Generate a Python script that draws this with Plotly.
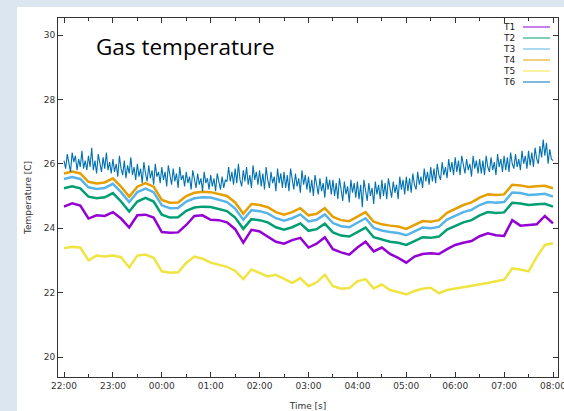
import pandas as pd
import plotly.graph_objects as go

# Sampling grids: T1..T5 logged every 10 minutes, T6 every 2 minutes
START = "2021-01-01 22:00"
t_slow = pd.date_range(START, periods=61, freq="10min")
t_fast = pd.date_range(START, periods=301, freq="2min")

T1 = [24.67, 24.77, 24.70, 24.30, 24.40, 24.38, 24.50, 24.30, 24.02, 24.40,
      24.42, 24.33, 23.88, 23.86, 23.87, 24.10, 24.38, 24.40, 24.26, 24.25,
      24.18, 23.97, 23.55, 23.95, 23.90, 23.75, 23.58, 23.52, 23.63, 23.70,
      23.40, 23.52, 23.72, 23.35, 23.25, 23.18, 23.40, 23.58, 23.28, 23.40,
      23.20, 23.08, 22.93, 23.12, 23.20, 23.22, 23.20, 23.35, 23.48, 23.55,
      23.60, 23.75, 23.84, 23.78, 23.76, 24.25, 24.08, 24.10, 24.12, 24.38,
      24.15]

T2 = [25.24, 25.30, 25.24, 24.98, 24.93, 24.96, 25.09, 24.83, 24.52, 24.83,
      24.94, 24.83, 24.42, 24.33, 24.34, 24.54, 24.64, 24.67, 24.66, 24.59,
      24.53, 24.33, 23.98, 24.28, 24.25, 24.18, 24.03, 23.95, 24.03, 24.15,
      23.92, 23.97, 24.14, 23.87, 23.77, 23.74, 23.87, 24.02, 23.72, 23.64,
      23.58, 23.55, 23.48, 23.60, 23.72, 23.70, 23.74, 23.96, 24.07, 24.18,
      24.25, 24.40, 24.50, 24.47, 24.49, 24.79, 24.77, 24.72, 24.74, 24.76,
      24.67]

T3 = [25.53, 25.59, 25.53, 25.27, 25.22, 25.25, 25.38, 25.12, 24.81, 25.12,
      25.23, 25.12, 24.71, 24.62, 24.63, 24.83, 24.93, 24.96, 24.95, 24.88,
      24.81, 24.61, 24.26, 24.56, 24.53, 24.46, 24.31, 24.23, 24.31, 24.43,
      24.21, 24.26, 24.43, 24.16, 24.06, 24.03, 24.16, 24.31, 24.01, 23.93,
      23.88, 23.85, 23.78, 23.90, 24.02, 24.00, 24.04, 24.27, 24.38, 24.50,
      24.57, 24.72, 24.81, 24.79, 24.81, 25.11, 25.09, 25.03, 25.05, 25.07,
      24.98]

T4 = [25.70, 25.76, 25.70, 25.44, 25.39, 25.42, 25.55, 25.29, 24.98, 25.29,
      25.40, 25.29, 24.88, 24.79, 24.80, 25.00, 25.10, 25.13, 25.12, 25.05,
      25.00, 24.80, 24.45, 24.75, 24.72, 24.65, 24.50, 24.42, 24.50, 24.62,
      24.40, 24.45, 24.62, 24.35, 24.25, 24.22, 24.35, 24.50, 24.20, 24.12,
      24.08, 24.05, 23.98, 24.10, 24.22, 24.20, 24.25, 24.48, 24.60, 24.72,
      24.80, 24.95, 25.05, 25.03, 25.05, 25.35, 25.33, 25.28, 25.30, 25.32,
      25.24]

T5 = [23.38, 23.42, 23.40, 23.00, 23.15, 23.12, 23.15, 23.10, 22.78, 23.15,
      23.18, 23.08, 22.66, 22.62, 22.63, 22.92, 23.12, 23.05, 22.93, 22.86,
      22.80, 22.68, 22.42, 22.72, 22.62, 22.50, 22.55, 22.42, 22.30, 22.45,
      22.20, 22.32, 22.55, 22.20, 22.12, 22.14, 22.35, 22.42, 22.13, 22.25,
      22.08, 22.02, 21.94, 22.05, 22.12, 22.15, 21.98, 22.08, 22.12, 22.18,
      22.20, 22.26, 22.30, 22.35, 22.40, 22.75, 22.72, 22.66, 23.10, 23.48,
      23.53]

# T6: one row per half hour
T6 = [26.10, 25.85, 26.30, 26.00, 25.75, 26.35, 26.05, 26.25, 25.80, 26.15, 25.90, 26.40, 25.85, 26.10, 25.80,
      26.25, 25.90, 26.50, 25.80, 26.10, 25.70, 26.30, 26.00, 25.75, 26.20, 25.85, 26.35, 25.80, 26.05, 25.70,
      26.15, 25.75, 26.00, 25.60, 26.25, 25.85, 25.65, 26.10, 25.55, 25.95, 25.70, 26.20, 25.65, 25.90, 25.50,
      26.00, 25.60, 25.85, 25.40, 26.05, 25.70, 25.45, 25.95, 25.55, 25.80, 25.35, 26.00, 25.60, 25.75, 25.40,
      25.90, 25.50, 25.75, 25.30, 25.95, 25.60, 25.35, 25.85, 25.45, 25.70, 25.25, 25.90, 25.50, 25.65, 25.30,
      25.75, 25.40, 25.60, 25.20, 25.80, 25.50, 25.25, 25.70, 25.35, 25.55, 25.15, 25.75, 25.40, 25.55, 25.20,
      25.65, 25.30, 25.55, 25.15, 25.70, 25.40, 25.20, 25.60, 25.25, 25.50, 25.45, 25.90, 25.45, 25.75, 25.35,
      25.85, 25.40, 26.00, 25.50, 25.30, 25.80, 25.45, 25.90, 25.35, 25.65, 25.25, 25.95, 25.50, 25.75, 25.35,
      25.80, 25.30, 25.70, 25.20, 25.90, 25.50, 25.25, 25.75, 25.40, 25.60, 25.15, 25.85, 25.40, 25.70, 25.25,
      25.75, 25.25, 25.65, 25.15, 25.85, 25.45, 25.20, 25.70, 25.30, 25.55, 25.10, 25.80, 25.35, 25.65, 25.20,
      25.60, 25.10, 25.50, 25.00, 25.65, 25.30, 25.05, 25.55, 25.15, 25.40, 24.95, 25.60, 25.20, 25.50, 25.05,
      25.50, 25.00, 25.40, 24.90, 25.55, 25.20, 24.85, 25.45, 25.05, 25.30, 24.80, 25.50, 25.10, 25.40, 24.95,
      25.45, 24.90, 25.35, 24.65, 25.50, 25.10, 24.85, 25.40, 25.00, 25.25, 24.75, 25.45, 25.05, 25.35, 24.90,
      25.50, 25.00, 25.40, 24.90, 25.55, 25.20, 24.95, 25.45, 25.10, 25.35, 24.90, 25.60, 25.20, 25.50, 25.05,
      25.60, 25.15, 25.55, 25.10, 25.70, 25.35, 25.20, 25.75, 25.35, 25.60, 25.25, 25.85, 25.45, 25.75, 25.35,
      25.90, 25.45, 25.85, 25.40, 26.00, 25.65, 25.50, 26.05, 25.65, 25.90, 25.55, 26.15, 25.75, 26.05, 25.65,
      26.20, 25.75, 26.10, 25.65, 26.25, 25.90, 25.70, 26.15, 25.80, 26.00, 25.60, 26.25, 25.85, 26.10, 25.70,
      26.15, 25.70, 26.10, 25.65, 26.25, 25.90, 25.75, 26.20, 25.80, 26.05, 25.65, 26.30, 25.90, 26.15, 25.75,
      26.25, 25.80, 26.20, 25.75, 26.35, 26.00, 25.85, 26.30, 25.90, 26.15, 25.80, 26.40, 26.00, 26.25, 25.85,
      26.40, 25.95, 26.35, 25.90, 26.50, 26.15, 26.00, 26.55, 26.20, 26.75, 26.25, 26.65, 26.00, 26.45, 26.15,
      26.10]

NAMES = ["T1", "T2", "T3", "T4", "T5", "T6"]
COLORS = ["#9400d3", "#009e73", "#56b4e9", "#e69f00", "#f0e442", "#0072b2"]
SERIES = [(t_slow, T1), (t_slow, T2), (t_slow, T3), (t_slow, T4), (t_slow, T5), (t_fast, T6)]
WIDTHS = [2.5, 2.5, 2.5, 2.5, 2.5, 1.1]

AXIS = "#333333"
FONT = "DejaVu Sans"

fig = go.Figure()
for (tx, vals), name, col, w in zip(SERIES, NAMES, COLORS, WIDTHS):
    fig.add_trace(go.Scatter(x=tx, y=vals, mode="lines", name=name,
                             line=dict(color=col, width=w), showlegend=False))

# white card behind the chart
fig.add_shape(type="rect", xref="paper", yref="paper", x0=-0.082, x1=1.05,
              y0=-0.2, y1=1.0306, fillcolor="white", line=dict(width=0), layer="below")

# key in the top-right corner: label, then line sample
row_y = [27, 38, 49, 60, 71, 82]
for name, col, ypx in zip(NAMES, COLORS, row_y):
    yp = (377 - ypx) / 359
    fig.add_annotation(x=0.918, y=yp, xref="paper", yref="paper", text=name,
                       showarrow=False, xanchor="right", yanchor="middle",
                       font=dict(family=FONT, size=9, color="#222"))
    fig.add_shape(type="line", xref="paper", yref="paper", x0=0.93, x1=0.984,
                  y0=yp, y1=yp, line=dict(color=col, width=1))

fig.add_annotation(x=0.072, y=0.922, xref="paper", yref="paper", text="Gas temperature",
                   showarrow=False, xanchor="left", yanchor="middle",
                   font=dict(family="Open Sans", size=22.5, color="#000"))

fig.update_layout(
    width=564, height=411,
    margin=dict(l=58, r=6, t=18, b=34),
    paper_bgcolor="#dce6f1", plot_bgcolor="white",
    font=dict(family=FONT, size=9, color=AXIS),
    xaxis=dict(
        type="date", range=["2021-01-01 21:52:38", "2021-01-02 08:06:08"],
        tick0="2021-01-01 22:00", dtick=3600000, tickformat="%H:%M",
        ticklabeloverflow="allow", automargin=False,
        ticks="inside", ticklen=5, tickcolor=AXIS, showline=True, linecolor=AXIS,
        linewidth=1, mirror="ticks", showgrid=False, zeroline=False,
        minor=dict(dtick=1800000, ticks="inside", ticklen=3, tickcolor=AXIS, showgrid=False),
        title=dict(text="Time [s]", standoff=12, font=dict(size=9)),
    ),
    yaxis=dict(
        range=[19.379, 30.528], tick0=20, dtick=2, automargin=False,
        ticks="inside", ticklen=5, tickcolor=AXIS, showline=True, linecolor=AXIS,
        linewidth=1, mirror="ticks", showgrid=False, zeroline=False,
        title=dict(text="Temperature [C]", standoff=10, font=dict(size=9)),
    ),
)

fig.write_html("out.html")
